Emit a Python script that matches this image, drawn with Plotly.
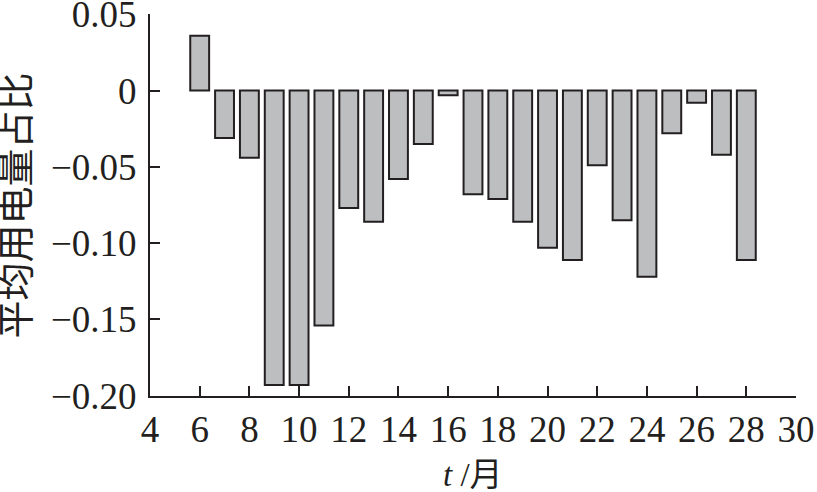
import plotly.graph_objects as go

months = [6, 7, 8, 9, 10, 11, 12, 13, 14, 15, 16, 17, 18, 19, 20, 21, 22, 23, 24, 25, 26, 27, 28]
ratio = [0.036, -0.031, -0.044, -0.193, -0.193, -0.154, -0.077, -0.086, -0.058, -0.035, -0.003,
         -0.068, -0.071, -0.086, -0.103, -0.111, -0.049, -0.085, -0.122, -0.028, -0.008, -0.042, -0.111]

x_ticks = list(range(4, 31, 2))
y_ticks = [0.05, 0, -0.05, -0.10, -0.15, -0.20]
y_tick_text = ["0.05", "0", "\u22120.05", "\u22120.10", "\u22120.15", "\u22120.20"]

ink = "#231f20"
serif = "Liberation Serif, Times New Roman, serif"
cjk = "Noto Sans CJK SC"

fig = go.Figure(go.Bar(
    x=months, y=ratio, width=0.76,
    marker=dict(color="#bcbec0", line=dict(color=ink, width=2)),
))

fig.update_layout(
    width=817, height=492,
    margin=dict(l=150, r=21, t=14, b=96),
    plot_bgcolor="white", paper_bgcolor="white",
    showlegend=False,
    font=dict(family=serif, size=37, color=ink),
    annotations=[
        dict(text="<i>t</i> /<span style='font-family:Noto Sans CJK SC'>月</span>",
             xref="paper", yref="paper", x=0.5, y=-0.198, xanchor="center", yanchor="middle",
             showarrow=False, font=dict(family=serif, size=33, color=ink)),
        dict(text="平均用电量占比", textangle=-90,
             xref="paper", yref="paper", x=-0.213, y=0.5, xanchor="center", yanchor="middle",
             showarrow=False, font=dict(family=cjk, size=38, color=ink)),
    ],
)
fig.update_xaxes(
    range=[4, 30], tickvals=x_ticks, ticktext=[str(v) for v in x_ticks],
    showline=True, linecolor=ink, linewidth=2,
    ticks="inside", ticklen=10, tickwidth=2, tickcolor=ink,
    showgrid=False, zeroline=False, automargin=False, ticklabeloverflow="allow",
    tickfont=dict(family=serif, size=37, color=ink), ticklabelstandoff=0,
)
fig.update_yaxes(
    range=[-0.2002, 0.0502], tickvals=y_ticks, ticktext=y_tick_text,
    showline=True, linecolor=ink, linewidth=2,
    ticks="inside", ticklen=10, tickwidth=2, tickcolor=ink,
    showgrid=False, zeroline=False, automargin=False, ticklabeloverflow="allow",
    tickfont=dict(family=serif, size=37, color=ink), ticklabelstandoff=4,
)

fig.write_html("out.html", config={"displayModeBar": False},
               post_script="document.body.style.margin='0';document.body.style.overflow='hidden';")
